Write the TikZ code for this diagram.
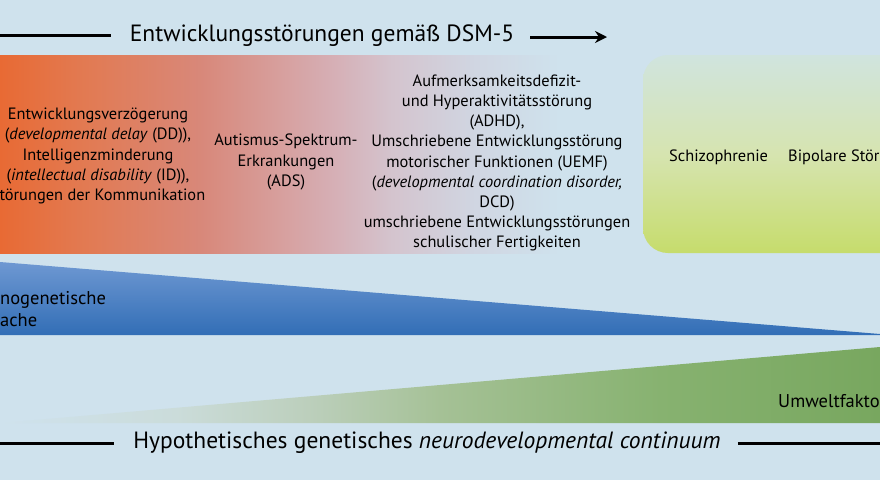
\documentclass[tikz,border=0pt]{standalone}
\usepackage{fontspec}
\setmainfont{PT Sans}
\usetikzlibrary{arrows.meta}
\definecolor{bg}{RGB}{207,226,237}
\definecolor{or0}{RGB}{232,106,52}
\definecolor{or1}{RGB}{226,122,82}
\definecolor{or2}{RGB}{216,136,122}
\definecolor{or3}{RGB}{214,174,180}
\definecolor{or4}{RGB}{212,196,206}
\definecolor{or5}{RGB}{208,214,226}
\definecolor{gb0}{RGB}{198,220,108}
\definecolor{gb1}{RGB}{214,228,176}
\definecolor{gb2}{RGB}{208,228,222}
\definecolor{bl0}{RGB}{50,110,182}
\definecolor{bl1}{RGB}{110,152,210}
\definecolor{gt1}{RGB}{203,220,218}
\definecolor{gt2}{RGB}{188,207,188}
\definecolor{gt3}{RGB}{165,193,150}
\definecolor{gt4}{RGB}{135,178,112}
\definecolor{gt5}{RGB}{120,167,95}
% the path's bounding box maps onto 25bp..75bp of each shading
\pgfdeclarehorizontalshading{orangefade}{100bp}{color(0bp)=(or0); color(25bp)=(or0); color(32.5bp)=(or1); color(43bp)=(or2); color(54.5bp)=(or3); color(60bp)=(or4); color(67.5bp)=(or5); color(75bp)=(bg); color(100bp)=(bg)}
\pgfdeclareverticalshading{greenbox}{100bp}{color(0bp)=(gb0); color(25bp)=(gb0); color(50bp)=(gb1); color(75bp)=(gb2); color(100bp)=(gb2)}
\pgfdeclareverticalshading{bluetri}{100bp}{color(0bp)=(bl0); color(25bp)=(bl0); color(75bp)=(bl1); color(100bp)=(bl1)}
\pgfdeclarehorizontalshading{greentri}{100bp}{color(0bp)=(bg); color(25bp)=(bg); color(35bp)=(gt1); color(42.5bp)=(gt2); color(50bp)=(gt3); color(62.5bp)=(gt4); color(75bp)=(gt5); color(100bp)=(gt5)}
\tikzset{
  body/.style={align=center, inner sep=0pt, font=\fontsize{16.4}{20.2}\selectfont},
  bigbody/.style={inner sep=0pt, font=\fontsize{18.5}{22}\selectfont},
  heading/.style={inner sep=0pt, font=\fontsize{23.5}{26}\selectfont},
  rule/.style={line width=3pt, black},
}
\begin{document}
\begin{tikzpicture}[x=1pt,y=-1pt]
\useasboundingbox (0,0) rectangle (880,480);
\clip (0,0) rectangle (880,480);
\fill[bg] (0,0) rectangle (880,480);
% coloured bands
\shade[shading=orangefade] (0,55) rectangle (560,253);
\shade[shading=greenbox, rounded corners=25pt] (643,55) rectangle (920,253);
\shade[shading=bluetri] (0,262) -- (880,334) -- (880,335) -- (0,335) -- cycle;
\shade[shading=greentri] (0,423) -- (880,347) -- (880,423) -- cycle;
% headings
\node[heading] (t1) at (322,36) {Entwicklungsstörungen gemäß DSM-5};
\coordinate (l1) at (0,35);
\coordinate (a1) at (530,37);
\coordinate (a2) at (607,37);
\draw[rule] (l1) -- ([xshift=-19pt]t1.west |- l1);
\draw[rule, -{Stealth[length=12pt,width=12pt,inset=4pt]}] (a1) -- (a2);
\node[heading] (t2) at (427,443) {Hypothetisches genetisches \textit{neurodevelopmental continuum}};
\coordinate (l2) at (0,443);
\coordinate (r2) at (880,443);
\draw[rule] (l2) -- ([xshift=-19pt]t2.west |- l2);
\draw[rule] ([xshift=17pt]t2.east |- r2) -- (r2);
% disorders
\node[body] (dd) at (98,156) {Entwicklungsverzögerung\\(\textit{developmental delay} (DD)),\\Intelligenzminderung\\(\textit{intellectual disability} (ID)),\\Störungen der Kommunikation};
\node[body] (ads) at (286,162) {Autismus-Spektrum-\\Erkrankungen\\(ADS)};
\node[body] (adhd) at (497,163) {Aufmerksamkeitsdefizit-\\und Hyperaktivitätsstörung\\(ADHD),\\Umschriebene Entwicklungsstörung\\motorischer Funktionen (UEMF)\\(\textit{developmental coordination disorder,}\\DCD)\\umschriebene Entwicklungsstörungen\\schulischer Fertigkeiten};
\node[body, anchor=west] (sz) at (669,157) {Schizophrenie};
\node[body, anchor=west] (bp) at (788,157) {Bipolare Störung};
% factors
\node[bigbody, align=left, anchor=west] (mono) at (0,309) {\llap{Mo}nogenetische\\\llap{Urs}ache};
\node[bigbody, anchor=west] (uw) at (778,401) {Umweltfaktoren};
\end{tikzpicture}
\end{document}
